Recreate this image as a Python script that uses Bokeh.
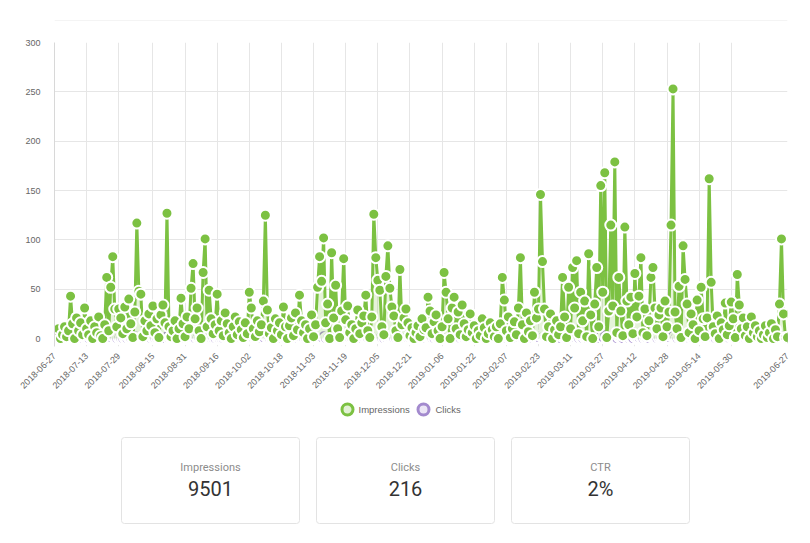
import datetime as dt
import numpy as np
from bokeh.plotting import figure
from bokeh.models import Range1d, FixedTicker
from bokeh.layouts import column
from bokeh.embed import file_html
from bokeh.resources import INLINE
from bokeh.core.properties import value

# ---------------- data ----------------
start_date = "2018-06-27"
tick_labels = ["2018-06-27", "2018-07-13", "2018-07-29", "2018-08-15", "2018-08-31",
               "2018-09-16", "2018-10-02", "2018-10-18", "2018-11-03", "2018-11-19",
               "2018-12-05", "2018-12-21", "2019-01-06", "2019-01-22", "2019-02-07",
               "2019-02-23", "2019-03-11", "2019-03-27", "2019-04-12", "2019-04-28",
               "2019-05-14", "2019-05-30", "2019-06-27"]
y_ticks = [0, 50, 100, 150, 200, 250, 300]

impressions = [
    5, 2, 10, 0, 4, 12, 2, 8, 43, 15, 0, 21, 8, 16, 4, 31,
    10, 4, 18, 0, 12, 6, 22, 3, 0, 14, 62, 8, 52, 83, 30, 12,
    30, 21, 5, 32, 10, 40, 15, 1, 27, 117, 48, 45, 2, 18, 8, 25,
    13, 33, 6, 20, 1, 24, 34, 16, 127, 12, 2, 8, 18, 0, 10, 41,
    15, 2, 22, 10, 51, 76, 20, 31, 8, 0, 67, 101, 12, 49, 20, 5,
    14, 45, 8, 18, 3, 26, 15, 6, 0, 12, 22, 4, 17, 9, 1, 16,
    5, 47, 31, 10, 2, 18, 7, 14, 38, 125, 29, 5, 11, 0, 20, 8,
    16, 4, 32, 12, 0, 13, 21, 3, 26, 9, 44, 18, 6, 14, 0, 10,
    24, 2, 14, 52, 83, 58, 102, 16, 35, 0, 87, 21, 54, 10, 1, 28,
    81, 19, 33, 6, 14, 0, 10, 29, 5, 16, 23, 44, 8, 1, 22, 126,
    82, 59, 49, 12, 4, 63, 94, 51, 32, 23, 8, 1, 70, 14, 21, 30,
    16, 3, 11, 0, 6, 13, 2, 20, 9, 11, 42, 28, 5, 17, 24, 8,
    0, 12, 67, 47, 20, 0, 31, 42, 10, 27, 4, 34, 15, 2, 9, 25,
    6, 13, 0, 8, 3, 20, 11, 0, 5, 16, 9, 2, 12, 0, 15, 62,
    39, 8, 22, 1, 10, 17, 4, 31, 82, 14, 0, 26, 7, 18, 3, 47,
    21, 30, 146, 78, 30, 2, 12, 25, 0, 9, 18, 4, 12, 62, 22, 1,
    52, 10, 72, 31, 79, 5, 47, 18, 38, 2, 86, 24, 0, 35, 72, 12,
    155, 47, 168, 1, 28, 115, 33, 179, 6, 62, 28, 3, 113, 38, 14, 42,
    5, 66, 22, 43, 82, 6, 30, 3, 18, 62, 72, 31, 10, 24, 31, 2,
    38, 12, 27, 115, 253, 27, 10, 53, 1, 94, 60, 35, 6, 25, 14, 0,
    39, 8, 52, 20, 2, 21, 162, 57, 12, 5, 23, 0, 16, 9, 36, 4,
    13, 37, 20, 1, 65, 34, 10, 21, 3, 12, 0, 22, 6, 13, 2, 8,
    0, 4, 13, 1, 6, 15, 0, 9, 2, 35, 101, 25, 1, 1,
]

clicks = [
    0, 0, 0, 0, 0, 1, 0, 0, 2, 0, 0, 1, 0, 0, 0, 1,
    0, 0, 1, 0, 0, 0, 1, 0, 0, 0, 2, 0, 1, 3, 1, 0,
    1, 0, 0, 1, 0, 1, 0, 0, 1, 3, 1, 1, 0, 0, 0, 1,
    0, 1, 0, 0, 0, 1, 1, 0, 3, 0, 0, 0, 1, 0, 0, 1,
    0, 0, 1, 0, 1, 2, 0, 1, 0, 0, 2, 3, 0, 1, 0, 0,
    0, 1, 0, 0, 0, 1, 0, 0, 0, 0, 1, 0, 0, 0, 0, 0,
    0, 1, 1, 0, 0, 0, 0, 0, 1, 3, 1, 0, 0, 0, 1, 0,
    0, 0, 1, 0, 0, 0, 1, 0, 1, 0, 1, 0, 0, 0, 0, 0,
    1, 0, 0, 1, 2, 1, 3, 0, 1, 0, 2, 0, 1, 0, 0, 1,
    2, 0, 1, 0, 0, 0, 0, 1, 0, 0, 1, 1, 0, 0, 0, 3,
    2, 1, 1, 0, 0, 1, 2, 1, 1, 0, 0, 0, 2, 0, 0, 1,
    0, 0, 0, 0, 0, 0, 0, 1, 0, 0, 1, 1, 0, 0, 1, 0,
    0, 0, 2, 1, 0, 0, 1, 1, 0, 1, 0, 1, 0, 0, 0, 1,
    0, 0, 0, 0, 0, 1, 0, 0, 0, 0, 0, 0, 0, 0, 0, 2,
    1, 0, 1, 0, 0, 0, 0, 1, 2, 0, 0, 1, 0, 0, 0, 1,
    1, 1, 3, 2, 1, 0, 0, 1, 0, 0, 1, 0, 0, 2, 1, 0,
    1, 0, 2, 1, 2, 0, 1, 0, 1, 0, 2, 1, 0, 1, 2, 0,
    3, 1, 4, 0, 1, 3, 1, 4, 0, 2, 1, 0, 3, 1, 0, 1,
    0, 2, 1, 1, 2, 0, 1, 0, 0, 2, 2, 1, 0, 1, 1, 0,
    1, 0, 1, 3, 5, 1, 0, 1, 0, 2, 1, 1, 0, 1, 0, 0,
    1, 0, 1, 1, 0, 1, 4, 1, 0, 0, 1, 0, 0, 0, 1, 0,
    0, 1, 1, 0, 2, 1, 0, 1, 0, 0, 0, 1, 0, 0, 0, 0,
    0, 0, 0, 0, 0, 1, 0, 0, 0, 1, 3, 1, 0, 0,
]

series_names = ["Impressions", "Clicks"]
series_colors = ["#7cc142", "#a38ace"]
series_light = ["#e2f1d5", "#ece6f6"]

card_titles = ["Impressions", "Clicks", "CTR"]
card_values = ["9501", "216", "2%"]

# ---------------- derived ----------------
d0 = dt.date.fromisoformat(start_date)
tick_pos = [(dt.date.fromisoformat(t) - d0).days for t in tick_labels]
x_imp = np.arange(len(impressions))
x_clk = np.arange(len(clicks))

W = 810
LEFT, RIGHT = 54, 23          # frame spans page x 54 .. 787 in every row
FX0, FX1 = LEFT, W - RIGHT
GRID = "#e6e6e6"
LABEL = "#666666"
FONT = "Liberation Sans"


def helper(height):
    f = figure(width=W, height=height, x_range=Range1d(FX0, FX1), y_range=Range1d(height, 0),
               x_axis_location=None, y_axis_location=None,
               min_border_left=LEFT, min_border_right=RIGHT, min_border_top=0, min_border_bottom=0,
               toolbar_location=None, output_backend="svg")
    f.outline_line_color = None
    f.grid.grid_line_color = None
    return f


# ---------------- top rule ----------------
TH = 21
top = helper(TH)
top.segment(x0=[FX0], y0=[TH - 0.5], x1=[FX1], y1=[TH - 0.5], line_color="#e8e8e8", line_width=1)

# ---------------- chart ----------------
p = figure(width=W, height=377, x_range=Range1d(0, tick_pos[-1]), y_range=Range1d(-8, 300),
           output_backend="svg", toolbar_location=None,
           min_border_left=LEFT, min_border_right=RIGHT, min_border_top=21, min_border_bottom=52)
p.outline_line_color = None

# clicks (beneath)
p.varea(x=x_clk, y1=0, y2=clicks, fill_color=series_colors[1], fill_alpha=0.2)
p.line(x_clk, clicks, line_color=series_colors[1], line_width=3)
p.scatter(x_clk, clicks, size=11, fill_color=series_colors[1], line_color="white", line_width=2)

# impressions
p.varea(x=x_imp, y1=0, y2=impressions, fill_color=series_colors[0], fill_alpha=0.2)
p.line(x_imp, impressions, line_color=series_colors[0], line_width=3)
p.scatter(x_imp, impressions, size=11, fill_color=series_colors[0], line_color="white", line_width=2)

p.xaxis.ticker = FixedTicker(ticks=tick_pos)
p.xaxis.major_label_overrides = {int(d): s for d, s in zip(tick_pos, tick_labels)}
p.xaxis.major_label_orientation = np.pi / 4
p.yaxis.ticker = FixedTicker(ticks=y_ticks)
for ax in (p.xaxis, p.yaxis):
    ax.major_label_text_font = FONT
    ax.major_label_text_font_size = "9px"
    ax.major_label_text_color = LABEL
    ax.major_tick_line_color = None
    ax.minor_tick_line_color = None
p.xaxis.axis_line_color = None
p.yaxis.axis_line_color = "#d8d8d8"
p.xaxis.major_label_standoff = 2
p.yaxis.major_label_standoff = 8
p.grid.grid_line_color = GRID
p.grid.grid_line_width = 1

# ---------------- legend + cards ----------------
BH = 543 - TH - 377
fb = helper(BH)

leg_y = [11, 11]
leg_icon_x = [347, 423]
leg_text_x = [358, 435]
fb.scatter(leg_icon_x, leg_y, size=11, fill_color=series_light, line_color=series_colors, line_width=3)
fb.text(leg_text_x, leg_y, text=series_names, text_font=value(FONT), text_font_size="9.5px",
        text_color=LABEL, text_baseline="middle", text_align="left")

card_left = [121, 316, 511]
card_w = 178
card_right = [l + card_w for l in card_left]
card_cx = [l + card_w / 2 for l in card_left]
fb.quad(left=card_left, right=card_right, top=[39] * 3, bottom=[125] * 3,
        fill_color="white", line_color="#e3e3e3", line_width=1, border_radius=3)
fb.text(card_cx, [69] * 3, text=card_titles, text_font=value("Roboto"), text_font_size="11px",
        text_color="#8c8c8c", text_baseline="middle", text_align="center")
fb.text(card_cx, [90] * 3, text=card_values, text_font=value("Roboto"), text_font_size="20px",
        text_color="#333333", text_baseline="middle", text_align="center")

layout = column(top, p, fb)
open("out.html", "w").write(file_html(layout, INLINE))
